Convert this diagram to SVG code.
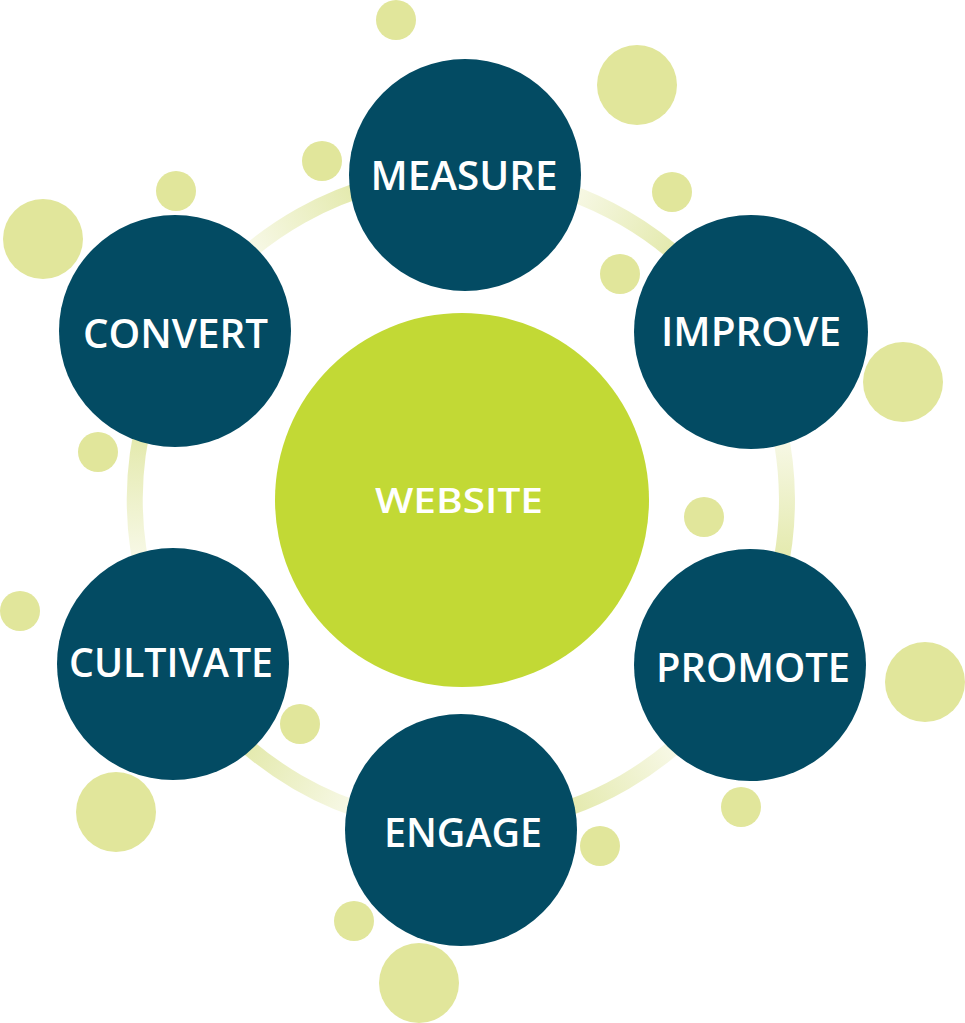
<svg xmlns="http://www.w3.org/2000/svg" width="965" height="1023" viewBox="0 0 965 1023">
<style>
.dot{fill:#e1e69b}
.node{fill:#034b63}
.hub{fill:#c2d935}
.lbl{font-family:"Open Sans","Liberation Sans",sans-serif;font-weight:600;fill:#ffffff;text-anchor:middle}
.ring{fill:none;stroke-width:16}
</style>
<defs>
<linearGradient id="gMI" gradientUnits="userSpaceOnUse" x1="465" y1="174" x2="742" y2="335"><stop offset="0.3" stop-color="#f8f9e9"/><stop offset="0.7" stop-color="#e3e9ab"/></linearGradient>
<linearGradient id="gIP" gradientUnits="userSpaceOnUse" x1="742" y1="335" x2="744" y2="662"><stop offset="0.3" stop-color="#f8f9e9"/><stop offset="0.7" stop-color="#e3e9ab"/></linearGradient>
<linearGradient id="gPE" gradientUnits="userSpaceOnUse" x1="744" y1="662" x2="461" y2="826"><stop offset="0.3" stop-color="#f8f9e9"/><stop offset="0.7" stop-color="#e3e9ab"/></linearGradient>
<linearGradient id="gEC" gradientUnits="userSpaceOnUse" x1="461" y1="826" x2="178" y2="662"><stop offset="0.3" stop-color="#f8f9e9"/><stop offset="0.7" stop-color="#e3e9ab"/></linearGradient>
<linearGradient id="gCC" gradientUnits="userSpaceOnUse" x1="178" y1="662" x2="180" y2="334"><stop offset="0.3" stop-color="#f8f9e9"/><stop offset="0.7" stop-color="#e3e9ab"/></linearGradient>
<linearGradient id="gCM" gradientUnits="userSpaceOnUse" x1="180" y1="334" x2="465" y2="174"><stop offset="0.3" stop-color="#f8f9e9"/><stop offset="0.7" stop-color="#e3e9ab"/></linearGradient>
</defs>
<rect width="965" height="1023" fill="#ffffff"/>
<g id="connectors">
<path class="ring" stroke="url(#gMI)" d="M465,174 A326,326 0 0 1 742,335"/>
<path class="ring" stroke="url(#gIP)" d="M742,335 A326,326 0 0 1 744,662"/>
<path class="ring" stroke="url(#gPE)" d="M744,662 A326,326 0 0 1 461,826"/>
<path class="ring" stroke="url(#gEC)" d="M461,826 A326,326 0 0 1 178,662"/>
<path class="ring" stroke="url(#gCC)" d="M178,662 A326,326 0 0 1 180,334"/>
<path class="ring" stroke="url(#gCM)" d="M180,334 A326,326 0 0 1 465,174"/>
</g>
<g id="dots">
<circle class="dot" cx="396" cy="20" r="20"/>
<circle class="dot" cx="637" cy="85" r="40"/>
<circle class="dot" cx="322" cy="161" r="20"/>
<circle class="dot" cx="176" cy="191" r="20"/>
<circle class="dot" cx="43" cy="239" r="40"/>
<circle class="dot" cx="672" cy="192" r="20"/>
<circle class="dot" cx="620" cy="274" r="20"/>
<circle class="dot" cx="903" cy="382" r="40"/>
<circle class="dot" cx="98" cy="452" r="20"/>
<circle class="dot" cx="704" cy="517" r="20"/>
<circle class="dot" cx="20" cy="611" r="20"/>
<circle class="dot" cx="925" cy="682" r="40"/>
<circle class="dot" cx="300" cy="724" r="20"/>
<circle class="dot" cx="116" cy="812" r="40"/>
<circle class="dot" cx="741" cy="807" r="20"/>
<circle class="dot" cx="600" cy="846" r="20"/>
<circle class="dot" cx="354" cy="921" r="20"/>
<circle class="dot" cx="419" cy="983" r="40"/>
</g>
<g id="website">
<circle class="hub" cx="462" cy="500" r="187"/>
<text class="lbl" x="459" y="513" font-size="34" textLength="168" lengthAdjust="spacingAndGlyphs">WEBSITE</text>
</g>
<g id="measure">
<circle class="node" cx="465" cy="175" r="116"/>
<text class="lbl" x="464" y="190" font-size="40" textLength="187" lengthAdjust="spacingAndGlyphs">MEASURE</text>
</g>
<g id="improve">
<circle class="node" cx="751" cy="332" r="117"/>
<text class="lbl" x="751" y="346" font-size="40" textLength="180" lengthAdjust="spacingAndGlyphs">IMPROVE</text>
</g>
<g id="promote">
<circle class="node" cx="750" cy="665" r="116"/>
<text class="lbl" x="753" y="682" font-size="40" textLength="194" lengthAdjust="spacingAndGlyphs">PROMOTE</text>
</g>
<g id="engage">
<circle class="node" cx="461" cy="830" r="116"/>
<text class="lbl" x="463" y="847" font-size="40" textLength="158" lengthAdjust="spacingAndGlyphs">ENGAGE</text>
</g>
<g id="cultivate">
<circle class="node" cx="173" cy="664" r="116"/>
<text class="lbl" x="171" y="677" font-size="40" textLength="204" lengthAdjust="spacingAndGlyphs">CULTIVATE</text>
</g>
<g id="convert">
<circle class="node" cx="175" cy="331" r="116"/>
<text class="lbl" x="175.5" y="348" font-size="40" textLength="185" lengthAdjust="spacingAndGlyphs">CONVERT</text>
</g>
</svg>
